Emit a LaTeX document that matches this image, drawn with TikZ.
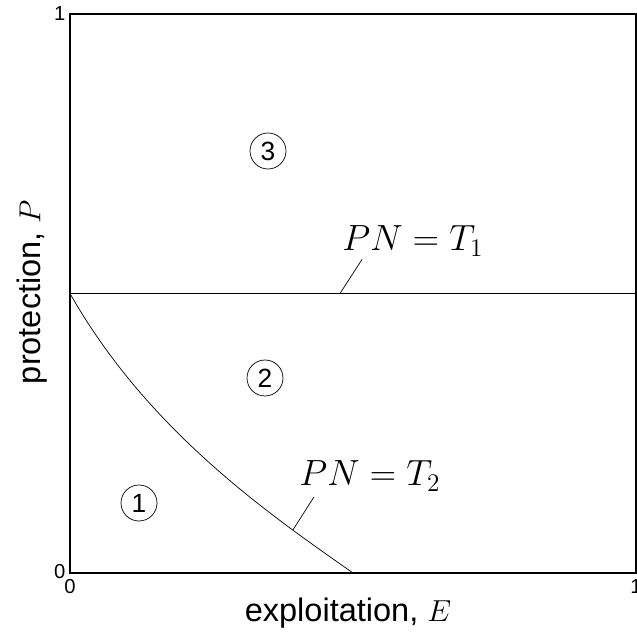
\documentclass[tikz,border=0pt]{standalone}
\usepackage{amsmath}
\usepackage{fontspec}
\setmainfont{Liberation Sans}
\usetikzlibrary{positioning}

\begin{document}
\begin{tikzpicture}[x=11.32cm, y=11.18cm,
  region/.style={draw, circle, thin, minimum size=0.72cm, inner sep=0pt,
                 font=\fontsize{15}{17}\selectfont},
  tick/.style={font=\fontsize{11.5}{13}\selectfont, inner sep=1pt},
  axlbl/.style={font=\fontsize{18.5}{22}\selectfont},
  eqlbl/.style={font=\fontsize{20}{24}\selectfont},
  leader/.style={thin}
]
\useasboundingbox (-1.40cm,-1.36cm) rectangle (11.34cm,11.46cm);

% frame
\draw[semithick] (0,0) rectangle (1,1);

% thresholds
\draw[thin] (0,0.5) -- (1,0.5) coordinate[pos=0.477] (t1pt);
\draw[thin] (0,0.5) .. controls (0.14,0.25) and (0.36,0.1) .. (0.5,0)
  coordinate[pos=0.772] (t2pt);

% labels of the thresholds
\node[eqlbl] (t1) at (6.86cm,6.64cm) {$PN = T_1$};
\node[eqlbl] (t2) at (6.0cm,1.94cm) {$PN = T_2$};
\coordinate (t1end) at (0.516,0.561);
\coordinate (t2end) at (0.431,0.136);
\draw[leader] (t1pt) -- (t1end);
\draw[leader] (t2pt) -- (t2end);

% regions
\node[region] (r1) at (1.38cm,1.40cm) {1};
\node[region] (r2) at (3.90cm,3.90cm) {2};
\node[region] (r3) at (3.96cm,8.44cm) {3};

% ticks
\node[tick, anchor=east]  (y0) at (-0.05cm,0.02cm) {0};
\node[tick, anchor=east]  (y1) at (-0.05cm,11.18cm) {1};
\node[tick, anchor=north] (x0) at (0,-0.08cm) {0};
\node[tick, anchor=north] (x1) at (1,-0.08cm) {1};

% axes
\node[axlbl, rotate=90] (ylbl) at (-0.76cm,5.62cm) {protection, $P$};
\node[axlbl] (xlbl) at (5.56cm,-0.80cm) {exploitation, $E$};
\end{tikzpicture}
\end{document}
